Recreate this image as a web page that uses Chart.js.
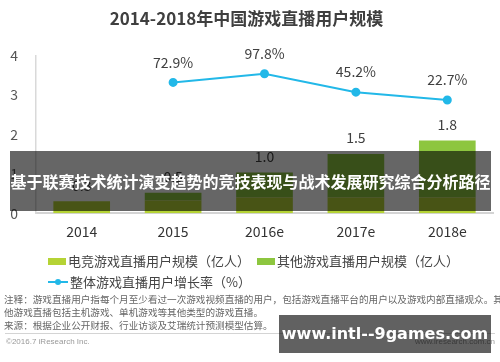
<!DOCTYPE html>
<html>
<head>
<meta charset="utf-8">
<title>2014-2018年中国游戏直播用户规模</title>
<script src="https://cdn.jsdelivr.net/npm/chart.js"></script>
<style>
  body { margin: 0; width: 500px; height: 362px; background: #fff; position: relative; overflow: hidden; font-family: "Noto Sans CJK SC", sans-serif; }
  #chart-box { position: absolute; left: 0; top: 0; width: 500px; height: 253px; }
  .legend { position: absolute; left: 48px; height: 18px; font-size: 13px; color: #444; white-space: nowrap; line-height: 18px; }
  .legend .item { display: inline-block; margin-right: 4px; vertical-align: top; }
  .swatch { display: inline-block; width: 18px; height: 7px; margin-right: 2px; vertical-align: middle; position: relative; top: -1px; }
  .line-icon { position: relative; display: inline-block; width: 20px; height: 8px; margin-right: 2px; vertical-align: middle; top: -1px; }
  .line-icon::before { content: ""; position: absolute; left: 0; right: 0; top: 3px; height: 2px; background: #22b8e8; }
  .line-icon::after { content: ""; position: absolute; left: 7px; top: 1px; width: 6px; height: 6px; border-radius: 50%; background: #22b8e8; }
  .notes { position: absolute; left: 4px; top: 293px; font-size: 9.6px; line-height: 13px; color: #666; white-space: nowrap; }
  .rule { position: absolute; left: 5px; top: 333px; width: 490px; height: 1px; background: #d4d4d4; }
  .foot { position: absolute; top: 337px; font-size: 8px; color: #999; font-family: "Liberation Sans", sans-serif; }
  .banner { position: absolute; left: 10px; top: 151px; width: 481px; height: 60px; background: rgba(0,0,0,0.6); color: #fff; font-weight: bold; font-size: 16px; line-height: 60px; text-align: center; white-space: nowrap; }
  .mark { position: absolute; left: 279px; top: 315px; width: 212px; height: 38px; background: rgba(0,0,0,0.62); color: #fff; font-family: "DejaVu Sans", sans-serif; font-weight: bold; font-size: 16px; line-height: 38px; text-align: center; white-space: nowrap; }
</style>
</head>
<body>
  <div id="chart-box"><canvas id="users-chart"></canvas></div>

  <div class="legend" style="top:252px;">
    <span class="item"><span class="swatch" style="background:#b5d335"></span>电竞游戏直播用户规模（亿人）</span>
    <span class="item"><span class="swatch" style="background:#8dc63f"></span>其他游戏直播用户规模（亿人）</span>
  </div>
  <div class="legend" style="top:273px;">
    <span class="item"><span class="line-icon"></span>整体游戏直播用户增长率（%）</span>
  </div>

  <div class="notes">
    注释：游戏直播用户指每个月至少看过一次游戏视频直播的用户，包括游戏直播平台的用户以及游戏内部直播观众。其<br>
    他游戏直播包括主机游戏、单机游戏等其他类型的游戏直播。<br>
    来源：根据企业公开财报、行业访谈及艾瑞统计预测模型估算。
  </div>
  <div class="rule"></div>
  <div class="foot" style="left:6px;">©2016.7 iResearch Inc.</div>
  <div class="foot" style="right:5px;">www.iresearch.com.cn</div>

  <div class="banner">基于联赛技术统计演变趋势的竞技表现与战术发展研究综合分析路径</div>
  <div class="mark">www.intl--9games.com</div>

<script>
// chart data
const years = ['2014', '2015', '2016e', '2017e', '2018e'];
const esportsUsers = [0.3, 0.32, 0.4, 0.4, 0.4];   // 亿人
const otherUsers = [0, 0.2, 0.63, 1.1, 1.44];      // 亿人
const growthRate = [null, 72.9, 97.8, 45.2, 22.7]; // %
const yTicks = [0, 1, 2, 3, 4];

Chart.defaults.font.family = '"Noto Sans CJK SC", sans-serif';

// draws the totals above the bars and the % above the line points
const valueLabels = {
    id: 'valueLabels',
    afterDatasetsDraw(chart) {
        const ctx = chart.ctx;
        const xs = chart.scales.x, ys = chart.scales.y;
        ctx.save();
        ctx.font = '14px "Noto Sans CJK SC", sans-serif';
        ctx.fillStyle = '#404040';
        ctx.textAlign = 'center';
        ctx.textBaseline = 'middle';
        years.forEach((yr, i) => {
            const total = esportsUsers[i] + otherUsers[i];
            ctx.fillText(total.toFixed(1), xs.getPixelForValue(i), ys.getPixelForValue(total) - 16);
        });
        chart.getDatasetMeta(2).data.forEach((pt, i) => {
            if (growthRate[i] == null) return;
            ctx.fillText(growthRate[i].toFixed(1) + '%', pt.x, pt.y - 20);
        });
        ctx.restore();
    }
};

const ctx = document.getElementById('users-chart').getContext('2d');
new Chart(ctx, {
    type: 'bar',
    data: {
        labels: years,
        datasets: [
            {
                label: '电竞游戏直播用户规模（亿人）',
                data: esportsUsers,
                backgroundColor: '#b5d335',
                stack: 'users',
                order: 2
            },
            {
                label: '其他游戏直播用户规模（亿人）',
                data: otherUsers,
                backgroundColor: '#8dc63f',
                stack: 'users',
                order: 2
            },
            {
                type: 'line',
                label: '整体游戏直播用户增长率（%）',
                data: growthRate,
                yAxisID: 'y2',
                borderColor: '#22b8e8',
                backgroundColor: '#22b8e8',
                borderWidth: 2,
                pointRadius: 3.5,
                tension: 0,
                order: 0
            }
        ]
    },
    options: {
        responsive: true,
        maintainAspectRatio: false,
        animation: false,
        layout: { padding: { left: 0, right: 7, bottom: 3 } },
        datasets: { bar: { categoryPercentage: 1, barPercentage: 0.62 } },
        plugins: {
            legend: { display: false },
            tooltip: { enabled: false },
            title: {
                display: true,
                text: '2014-2018年中国游戏直播用户规模',
                color: '#3f3f3f',
                font: { size: 17, weight: 'bold' },
                padding: { top: 8, bottom: 27 }
            }
        },
        scales: {
            x: {
                stacked: true,
                grid: { display: false, drawTicks: false },
                border: { color: '#d4d4d4', width: 2 },
                ticks: { color: '#333', font: { size: 14 }, padding: 10 }
            },
            y: {
                stacked: true,
                min: yTicks[0],
                max: yTicks[yTicks.length - 1],
                grid: { display: false, drawTicks: false },
                border: { color: '#d9d9d9', width: 1.5 },
                afterBuildTicks: axis => { axis.ticks = yTicks.map(v => ({ value: v })); },
                afterFit: axis => { axis.width = 36; },
                ticks: { color: '#555', font: { size: 14 }, padding: 18 }
            },
            y2: {
                position: 'right',
                display: false,
                min: -300,
                max: 150
            }
        }
    },
    plugins: [valueLabels]
});
</script>
</body>
</html>
